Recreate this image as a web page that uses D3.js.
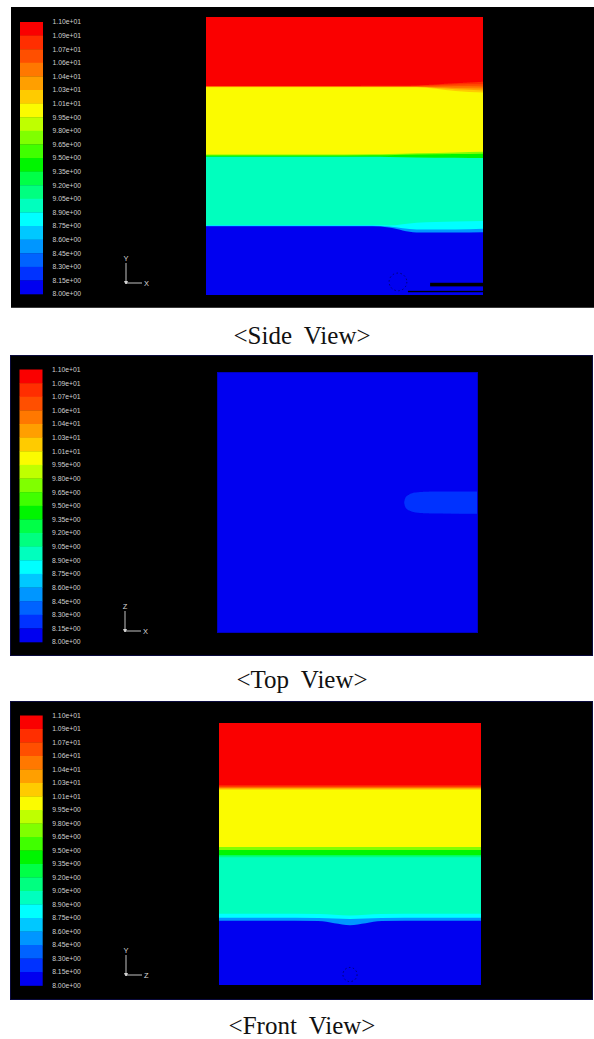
<!DOCTYPE html>
<html>
<head>
<meta charset="utf-8">
<script src="https://cdn.jsdelivr.net/npm/d3@7"></script>
<style>
  html, body { margin: 0; padding: 0; background: #ffffff; }
  svg { display: block; }
</style>
</head>
<body>
<script>
// ---------------- DATA ----------------
// colour-bar tick labels (top -> bottom) and their values
const tickLabels = ["1.10e+01","1.09e+01","1.07e+01","1.06e+01","1.04e+01","1.03e+01","1.01e+01",
  "9.95e+00","9.80e+00","9.65e+00","9.50e+00","9.35e+00","9.20e+00","9.05e+00","8.90e+00",
  "8.75e+00","8.60e+00","8.45e+00","8.30e+00","8.15e+00","8.00e+00"];
const tickValues = [11.0,10.85,10.7,10.55,10.4,10.25,10.1,9.95,9.8,9.65,9.5,9.35,9.2,9.05,8.9,
  8.75,8.6,8.45,8.3,8.15,8.0];

// Side view: contour layers (value, top boundary height 0..1 at sideXs across the width)
const sideXs = [0, 0.2, 0.4, 0.6, 0.66, 0.76, 0.9, 1.0];
const sideLayers = [
  {value: 10.95, top: [1, 1, 1, 1, 1, 1, 1, 1]},
  {value: 10.80, top: [0.752, 0.752, 0.752, 0.753, 0.753, 0.754, 0.762, 0.767]},
  {value: 10.62, top: [0.751, 0.751, 0.751, 0.751, 0.751, 0.752, 0.757, 0.758]},
  {value: 10.47, top: [0.750, 0.750, 0.750, 0.750, 0.750, 0.750, 0.751, 0.750]},
  {value: 10.32, top: [0.749, 0.749, 0.749, 0.749, 0.749, 0.749, 0.745, 0.743]},
  {value: 10.17, top: [0.748, 0.748, 0.748, 0.748, 0.748, 0.748, 0.740, 0.736]},
  {value: 10.00, top: [0.747, 0.747, 0.747, 0.747, 0.747, 0.747, 0.734, 0.728]},
  {value: 9.75,  top: [0.505, 0.505, 0.505, 0.506, 0.507, 0.510, 0.513, 0.515]},
  {value: 9.42,  top: [0.502, 0.502, 0.502, 0.503, 0.503, 0.505, 0.507, 0.508]},
  {value: 8.97,  top: [0.497, 0.497, 0.497, 0.497, 0.496, 0.495, 0.494, 0.493]},
  {value: 8.82,  top: [0.252, 0.252, 0.252, 0.252, 0.250, 0.260, 0.264, 0.266]},
  {value: 8.52,  top: [0.249, 0.249, 0.249, 0.249, 0.246, 0.236, 0.236, 0.238]},
  {value: 8.07,  top: [0.247, 0.247, 0.247, 0.247, 0.243, 0.225, 0.225, 0.226]}
];
const sideWalls = [
  {x0: 0.809, x1: 1.0, y0: 0.031, y1: 0.044},
  {x0: 0.729, x1: 1.0, y0: 0.010, y1: 0.015}
];
const sideProbe = {x: 0.693, y: 0.047, r: 0.032};

// Top view: uniform field with a small plume at the right
const topBackground = 8.07;
const topPlumeValue = 8.22;
const topPlumeXs    = [0.717, 0.722, 0.735, 0.76, 0.80, 0.86, 1.0];
const topPlumeUpper = [0.500, 0.518, 0.530, 0.538, 0.541, 0.542, 0.542];
const topPlumeLower = [0.500, 0.482, 0.470, 0.462, 0.459, 0.458, 0.457];

// Front view
const frontXs = [0, 0.2, 0.38, 0.44, 0.5, 0.56, 0.62, 0.8, 1.0];
const frontLayers = [
  {value: 10.95, top: [1, 1, 1, 1, 1, 1, 1, 1, 1]},
  {value: 10.80, top: [0.762, 0.762, 0.762, 0.762, 0.762, 0.762, 0.762, 0.762, 0.762]},
  {value: 10.62, top: [0.758, 0.758, 0.758, 0.758, 0.758, 0.758, 0.758, 0.758, 0.758]},
  {value: 10.47, top: [0.755, 0.755, 0.755, 0.755, 0.755, 0.755, 0.755, 0.755, 0.755]},
  {value: 10.32, top: [0.752, 0.752, 0.752, 0.752, 0.752, 0.752, 0.752, 0.752, 0.752]},
  {value: 10.17, top: [0.749, 0.749, 0.749, 0.749, 0.749, 0.749, 0.749, 0.749, 0.749]},
  {value: 10.00, top: [0.745, 0.745, 0.745, 0.745, 0.745, 0.745, 0.745, 0.745, 0.745]},
  {value: 9.75,  top: [0.527, 0.527, 0.527, 0.527, 0.527, 0.527, 0.527, 0.527, 0.527]},
  {value: 9.42,  top: [0.515, 0.515, 0.515, 0.515, 0.515, 0.515, 0.515, 0.515, 0.515]},
  {value: 9.12,  top: [0.495, 0.495, 0.495, 0.495, 0.495, 0.495, 0.495, 0.495, 0.495]},
  {value: 8.97,  top: [0.488, 0.488, 0.488, 0.488, 0.488, 0.488, 0.488, 0.488, 0.488]},
  {value: 8.82,  top: [0.272, 0.272, 0.271, 0.268, 0.265, 0.268, 0.271, 0.272, 0.272]},
  {value: 8.52,  top: [0.257, 0.257, 0.256, 0.254, 0.252, 0.254, 0.256, 0.257, 0.257]},
  {value: 8.07,  top: [0.245, 0.245, 0.244, 0.236, 0.228, 0.236, 0.244, 0.245, 0.245]}
];
const frontProbe = {x: 0.5, y: 0.04, r: 0.027};

const captions = ["<Side View>", "<Top View>", "<Front View>"];
const axisLabels = [["Y", "X"], ["Z", "X"], ["Y", "Z"]];

// colour map (top band -> bottom band)
const bandColors = ["#fa0000","#ff2d00","#ff5000","#ff7800","#ff9f00","#ffcb00","#fbfb00",
  "#bfff00","#80ff00","#40ff00","#00f500","#00ff46","#00ff80","#00ffbe","#00ffff",
  "#00c8ff","#0096ff","#0064ff","#0032ff","#0000f0"];

// ---------------- LAYOUT ----------------
const W = 594, H = 1039;
const panels = [
  {box: [11, 7, 594, 308],  bar: [20, 22, 43, 294],   plot: [206, 17, 483, 295], triad: [126, 283], cap: 344.3},
  {box: [10, 355, 593, 656], bar: [19.5, 369.5, 42.5, 642], plot: [217, 372, 478, 633], triad: [125, 631], cap: 688.3},
  {box: [10, 701, 593, 1000], bar: [20, 715.5, 42.7, 985.5], plot: [219, 723, 481, 985], triad: [126, 975], cap: 1034.3}
];

const color = d3.scaleQuantize().domain([8, 11]).range(bandColors.slice().reverse());

const svg = d3.select("body").append("svg").attr("width", W).attr("height", H);
svg.append("rect").attr("width", W).attr("height", H).attr("fill", "#fff");

const defs = svg.append("defs");
defs.append("filter").attr("id", "soft").attr("x", "-2%").attr("y", "-2%").attr("width", "104%").attr("height", "104%")
  .append("feGaussianBlur").attr("stdDeviation", 0.6);

panels.forEach((p, idx) => {
  const g = svg.append("g");
  // black background panel
  g.append("rect").attr("x", p.box[0]).attr("y", p.box[1])
    .attr("width", p.box[2] - p.box[0]).attr("height", p.box[3] - p.box[1])
    .attr("fill", "#000");
  if (idx > 0) {
    g.append("rect").attr("x", p.box[0] + 0.5).attr("y", p.box[1] + 0.5)
      .attr("width", p.box[2] - p.box[0] - 1).attr("height", p.box[3] - p.box[1] - 1)
      .attr("fill", "none").attr("stroke", "#0a0a3c").attr("stroke-width", 1);
  } else {
    g.append("line").attr("x1", p.box[0]).attr("x2", p.box[2]).attr("y1", p.box[3] - 0.5).attr("y2", p.box[3] - 0.5)
      .attr("stroke", "#3a3a3a").attr("stroke-width", 1);
  }

  // colour bar
  const yBar = d3.scaleLinear().domain([8, 11]).range([p.bar[3], p.bar[1]]);
  const bars = g.append("g").attr("filter", "url(#soft)");
  d3.range(tickValues.length - 1).forEach(i => {
    const v0 = tickValues[i + 1], v1 = tickValues[i];
    bars.append("rect").attr("x", p.bar[0]).attr("width", p.bar[2] - p.bar[0])
      .attr("y", yBar(v1)).attr("height", yBar(v0) - yBar(v1) + 0.3)
      .attr("fill", color((v0 + v1) / 2));
  });
  g.append("g").selectAll("text").data(tickLabels).join("text")
    .attr("x", p.bar[2] + 9.5)
    .attr("y", (d, i) => yBar(tickValues[i]))
    .attr("dy", "0.35em")
    .attr("font-family", "'Liberation Sans', Arial, sans-serif")
    .attr("font-size", 6.8)
    .attr("fill", "#cfcfcf")
    .text(d => d);

  // axis triad
  const [ox, oy] = p.triad;
  const tri = g.append("g").attr("stroke", "#d8d8d8").attr("stroke-width", 0.9);
  tri.append("line").attr("x1", ox).attr("y1", oy).attr("x2", ox).attr("y2", oy - 20);
  tri.append("line").attr("x1", ox).attr("y1", oy).attr("x2", ox + 16).attr("y2", oy);
  tri.append("path").attr("d", `M${ox - 1.5},${oy - 1.5}L${ox + 1.5},${oy - 1.5}L${ox},${oy + 1}Z`).attr("fill", "#d8d8d8");
  g.append("text").attr("x", ox).attr("y", oy - 22).attr("text-anchor", "middle")
    .attr("font-family", "'Liberation Sans', Arial, sans-serif").attr("font-size", 7.5).attr("fill", "#d8d8d8")
    .text(axisLabels[idx][0]);
  g.append("text").attr("x", ox + 18).attr("y", oy + 2.7)
    .attr("font-family", "'Liberation Sans', Arial, sans-serif").attr("font-size", 7.5).attr("fill", "#d8d8d8")
    .text(axisLabels[idx][1]);

  // contour plot
  const xS = d3.scaleLinear().domain([0, 1]).range([p.plot[0], p.plot[2]]);
  const yS = d3.scaleLinear().domain([0, 1]).range([p.plot[3], p.plot[1]]);
  const cid = "clip" + idx;
  defs.append("clipPath").attr("id", cid).append("rect")
    .attr("x", p.plot[0]).attr("y", p.plot[1])
    .attr("width", p.plot[2] - p.plot[0]).attr("height", p.plot[3] - p.plot[1]);
  const plotG = g.append("g").attr("filter", "url(#soft)").append("g").attr("clip-path", `url(#${cid})`);

  const drawLayers = (xs, layers) => {
    const area = d3.area().x(d => xS(d.x)).y0(yS(-0.05)).y1(d => yS(d.y)).curve(d3.curveMonotoneX);
    layers.forEach(L => {
      plotG.append("path").datum(xs.map((x, i) => ({x, y: L.top[i]})))
        .attr("fill", color(L.value)).attr("d", area);
    });
  };

  if (idx === 0) {
    drawLayers(sideXs, sideLayers);
    plotG.selectAll("rect.wall").data(sideWalls).join("rect").attr("class", "wall")
      .attr("x", d => xS(d.x0)).attr("width", d => xS(d.x1) - xS(d.x0))
      .attr("y", d => yS(d.y1)).attr("height", d => yS(d.y0) - yS(d.y1))
      .attr("fill", "#000");
    plotG.append("circle").attr("cx", xS(sideProbe.x)).attr("cy", yS(sideProbe.y))
      .attr("r", xS(sideProbe.r) - xS(0)).attr("fill", "none")
      .attr("stroke", "#000050").attr("stroke-width", 0.8).attr("stroke-dasharray", "1.5,2.5");
  } else if (idx === 1) {
    plotG.append("rect").attr("x", xS(0)).attr("y", yS(1)).attr("width", xS(1) - xS(0))
      .attr("height", yS(0) - yS(1)).attr("fill", color(topBackground));
    const plume = d3.area().x(d => xS(d.x)).y0(d => yS(d.lo)).y1(d => yS(d.hi)).curve(d3.curveMonotoneX);
    plotG.append("path")
      .datum(topPlumeXs.map((x, i) => ({x, hi: topPlumeUpper[i], lo: topPlumeLower[i]})))
      .attr("fill", color(topPlumeValue)).attr("d", plume);
    plotG.append("rect").attr("x", xS(0) + 0.5).attr("y", yS(1) + 0.5).attr("width", xS(1) - xS(0) - 1)
      .attr("height", yS(0) - yS(1) - 1).attr("fill", "none").attr("stroke", "#0000c0").attr("stroke-width", 1);
  } else {
    drawLayers(frontXs, frontLayers);
    plotG.append("circle").attr("cx", xS(frontProbe.x)).attr("cy", yS(frontProbe.y))
      .attr("r", xS(frontProbe.r) - xS(0)).attr("fill", "none")
      .attr("stroke", "#000050").attr("stroke-width", 0.8).attr("stroke-dasharray", "1.5,2.5");
  }

  // caption
  svg.append("text").attr("x", 302).attr("y", p.cap).attr("text-anchor", "middle")
    .attr("font-family", "'Liberation Serif', 'Times New Roman', serif")
    .attr("font-size", 25).attr("fill", "#111")
    .attr("word-spacing", 6)
    .text(captions[idx]);
});
</script>
</body>
</html>
